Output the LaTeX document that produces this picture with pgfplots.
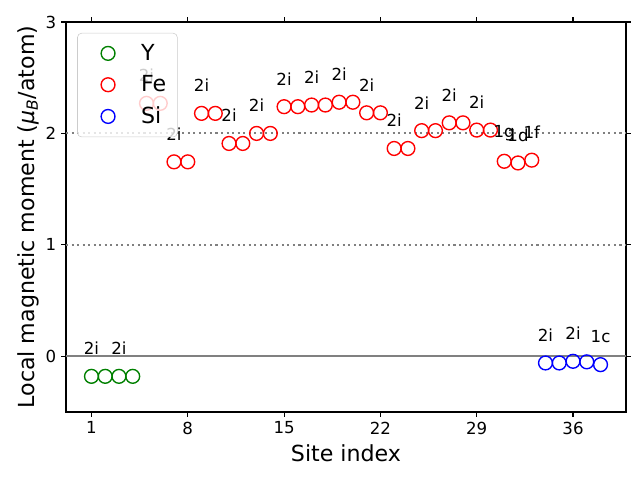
\documentclass[border=0pt]{standalone}
\usepackage{pgfplots}
\pgfplotsset{compat=1.18}
\usepackage{fontspec}
\setmainfont{DejaVu Sans}
\definecolor{mplgreen}{RGB}{0,128,0}
\begin{document}
\begin{tikzpicture}
\useasboundingbox (-0.66in,-0.68in) rectangle (5.74in,4.12in);
\begin{axis}[
  scale only axis, width=5.6in, height=3.9in,
  xmin=-0.85, xmax=39.85, ymin=-0.5, ymax=3,
  xtick={1,8,15,22,29,36}, ytick={0,1,2,3},
  tick align=outside, major tick length=3.5pt,
  tick style={black, line width=0.8pt},
  axis line style={line width=0.8pt},
  tick label style={font=\fontsize{12}{14}\selectfont},
  /pgf/number format/assume math mode=true,
  xlabel={Site index}, ylabel={Local magnetic moment (\textit{μ}\textsubscript{\textit{B}}/atom)},
  label style={font=\fontsize{16}{19}\selectfont},
  xlabel style={yshift=-1pt},
  ylabel style={yshift=-2pt},
  legend style={at={(0.02,0.972)}, anchor=north west, draw=black!20, rounded corners=3pt,
    fill=white, fill opacity=0.8, text opacity=1, font=\fontsize{16}{19}\selectfont,
    row sep=5.5pt, inner xsep=6pt, inner ysep=6pt},
  legend image code/.code={\path (0pt,0pt) (37pt,0pt); \draw plot coordinates {(15.6pt,0pt)};},
  legend cell align=left,
  clip=false,
]
\draw[gray, line width=1.5pt] (axis cs:-0.85,0) -- (axis cs:39.85,0);
\draw[gray, line width=1.5pt, dash pattern=on 1.5pt off 2.5pt] (axis cs:-0.85,1) -- (axis cs:39.85,1);
\draw[gray, line width=1.5pt, dash pattern=on 1.5pt off 2.5pt] (axis cs:-0.85,2) -- (axis cs:39.85,2);
\addplot[only marks, mark=o, mark size=5pt, mplgreen, line width=1pt] coordinates {
(1,-0.18) (2,-0.18) (3,-0.18) (4,-0.18)};
\addlegendentry{Y}
\addplot[only marks, mark=o, mark size=5pt, red, line width=1pt] coordinates {
(5,2.27) (6,2.27) (7,1.745) (8,1.745) (9,2.18) (10,2.18) (11,1.91) (12,1.91)
(13,2.0) (14,2.0) (15,2.24) (16,2.24) (17,2.255) (18,2.255) (19,2.28) (20,2.28)
(21,2.185) (22,2.185) (23,1.865) (24,1.865) (25,2.025) (26,2.025) (27,2.095) (28,2.095)
(29,2.03) (30,2.03) (31,1.75) (32,1.735) (33,1.76)};
\addlegendentry{Fe}
\addplot[only marks, mark=o, mark size=5pt, blue, line width=1pt] coordinates {
(34,-0.06) (35,-0.06) (36,-0.045) (37,-0.05) (38,-0.075)};
\addlegendentry{Si}
\addplot[draw=none, mark=none, nodes near coords, point meta=explicit symbolic,
  every node near coord/.style={anchor=center, font=\fontsize{12}{14}\selectfont, black}]
  table[meta=label] {
x y label
1 0.07 2i
3 0.07 2i
5 2.52 2i
7 1.995 2i
9 2.43 2i
11 2.16 2i
13 2.25 2i
15 2.49 2i
17 2.505 2i
19 2.53 2i
21 2.435 2i
23 2.115 2i
25 2.275 2i
27 2.345 2i
29 2.28 2i
31 2.0 1g
32 1.985 1d
33 2.01 1f
34 0.19 2i
36 0.205 2i
38 0.175 1c
};
\end{axis}
\end{tikzpicture}
\end{document}
